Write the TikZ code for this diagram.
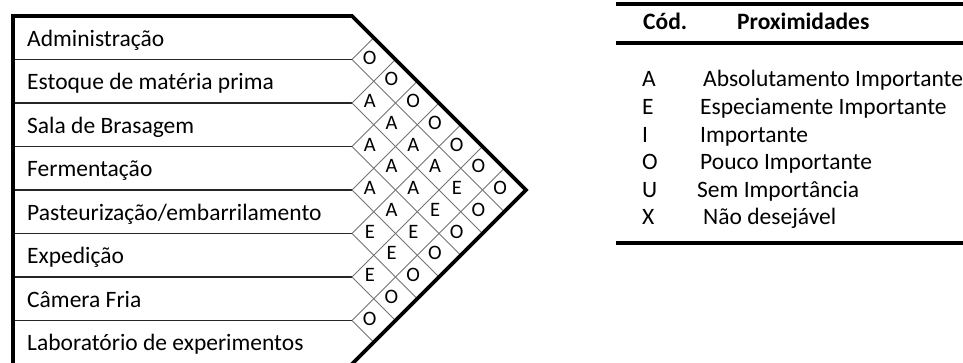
\documentclass[tikz,border=0pt]{standalone}
\usepackage{fontspec}
\setmainfont{Carlito}
\usetikzlibrary{calc}
\tikzset{
  setor/.style={anchor=base west, inner sep=0pt, font=\fontsize{23.5}{28}\selectfont},
  grau/.style={inner sep=0pt, font=\fontsize{20.5}{24}\selectfont},
  legenda/.style={anchor=base west, inner sep=0pt, font=\fontsize{23.5}{28}\selectfont},
  grade/.style={draw=black!55, line width=0.9pt},
  divisa/.style={draw=black!85, line width=1.1pt},
  borda/.style={draw=black, line width=3.6pt},
}

\begin{document}
\begin{tikzpicture}[x=1pt, y=-1pt]
  \useasboundingbox (0,0) rectangle (963,363);
  % diamond grid of the relationship chart
  \foreach \k in {1,...,7} {
    \pgfmathsetmacro\bk{16+43.5*\k}
    \draw[divisa] (15,\bk) -- (352,\bk);
    \draw[grade] (352,\bk) -- ++({(364-\bk)/2},{(364-\bk)/2});
    \draw[grade] (352,\bk) -- ++({(\bk-16)/2},{-(\bk-16)/2});
  }
  \draw[borda] (350,366) -- (526,190) -- (352,16) -- (13,16) -- (13,366);
  % sectors
  \foreach \t [count=\i from 0] in {Administração, Estoque de matéria prima,
      Sala de Brasagem, Fermentação, Pasteurização/embarrilamento,
      Expedição, Câmera Fria, Laboratório de experimentos}
    \node[setor] (s\i) at (27,{16+43.5*(\i+0.5)+8.5}) {\t};
  % proximity codes
  \foreach \i/\j/\r in {0/1/O, 1/2/A, 2/3/A, 3/4/A, 4/5/E, 5/6/E, 6/7/O,
      0/2/O, 1/3/A, 2/4/A, 3/5/A, 4/6/E, 5/7/O,
      0/3/O, 1/4/A, 2/5/A, 3/6/E, 4/7/O,
      0/4/O, 1/5/A, 2/6/E, 3/7/O,
      0/5/O, 1/6/E, 2/7/O,
      0/6/O, 1/7/O,
      0/7/O}
    \node[grau] (c\i\j) at ({348+(\j-\i)*21.75},{14+43.5*((\i+\j)/2+0.5)}) {\r};
  % legend table
  \draw[borda] (616,4) -- (966,4);
  \draw[borda] (616,43) -- (966,43);
  \draw[borda] (616,243) -- (966,243);
  \node[legenda, font=\fontsize{23.5}{28}\selectfont\bfseries] (cod) at (643,30) {Cód.};
  \node[legenda, font=\fontsize{23.5}{28}\selectfont\bfseries] (prox) at (737,30) {Proximidades};
  \foreach \c/\x/\t [count=\i from 0] in {A/703/Absolutamento Importante,
      E/700/Especiamente Importante, I/700/Importante, O/700/Pouco Importante,
      U/697/Sem Importância, X/703/Não desejável} {
    \node[legenda] (l\c) at (642,{87+27.6*\i}) {\c};
    \node[legenda] (t\c) at (\x,{87+27.6*\i}) {\t};
  }
\end{tikzpicture}
\end{document}
